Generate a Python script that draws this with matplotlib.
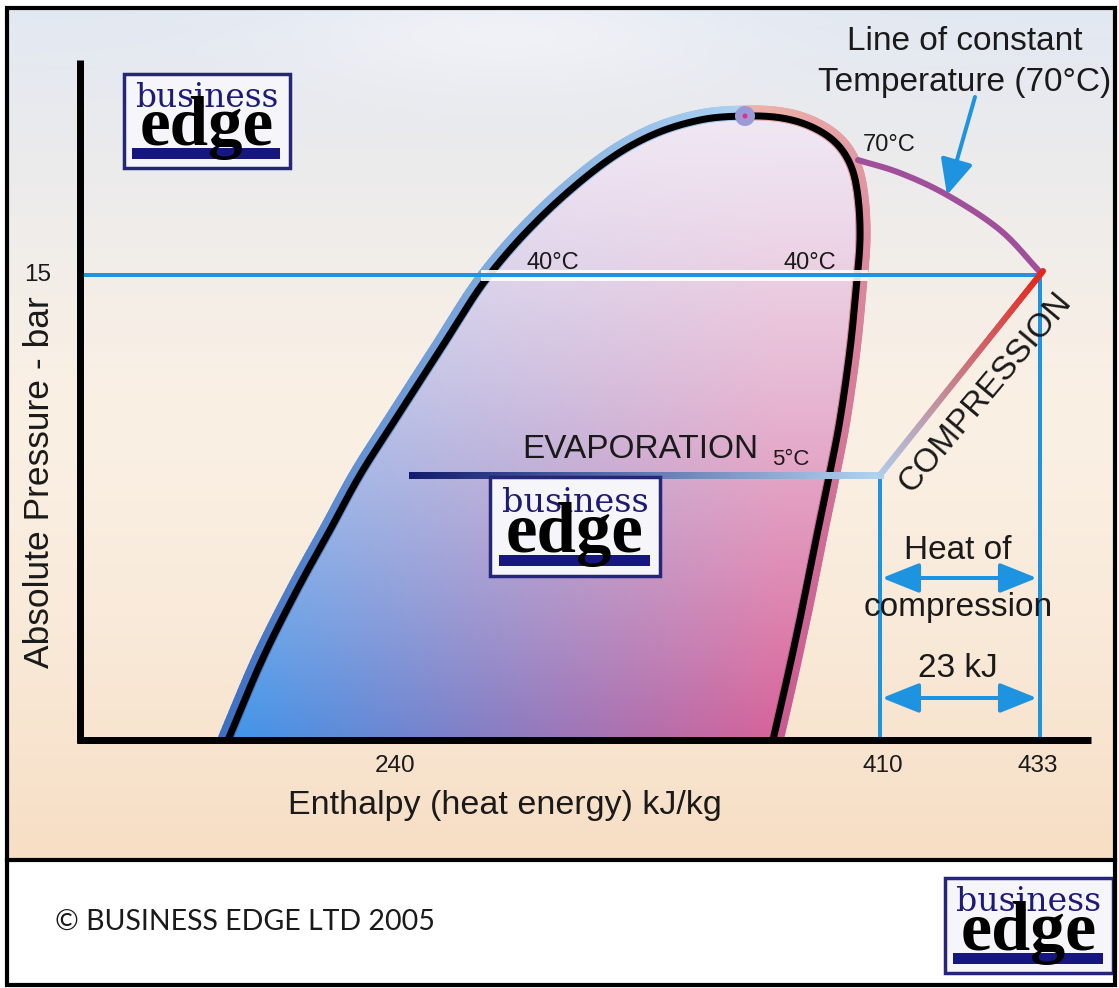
"""Pressure-enthalpy (refrigeration cycle) diagram"""

import numpy as np
import matplotlib.pyplot as plt
from matplotlib.patches import Polygon, Rectangle, Circle
from matplotlib.collections import LineCollection

W, H = 1119, 988
PX = 0.72  # one pixel in points at dpi 100

# schematic diagram coordinates (canvas pixels, y downward)
h_tick_pos = [395, 883, 1038]
h_tick_labels = ["240", "410", "433"]
p_tick_pos = [275]
p_tick_labels = ["15"]

dome_left_x = [228, 262, 297, 330, 360, 395, 440, 487, 540, 600, 650, 700, 745]
dome_left_y = [740, 660, 590, 530, 475, 420, 350, 278, 218, 166, 136, 120, 116]
dome_right_x = [745, 782, 812, 836, 851, 858, 860, 856, 850, 840, 829, 818, 804, 789, 773]
dome_right_y = [116, 118, 127, 143, 166, 197, 240, 290, 350, 420, 477, 530, 600, 670, 740]

iso70_x = [858, 900, 947, 1000, 1040]
iso70_y = [160, 173, 195, 230, 272]

evap_x = [412, 880]
evap_y = [475, 475]
comp_x = [880, 1043]
comp_y = [475, 271]

p_high_y = 275
h_evap_x = 880
h_comp_x = 1040
arrow_rows = [578, 698]

logos = [(124, 74, 290, 168), (490, 477, 660, 576), (945, 878, 1113, 973)]

BLUE = "#1e93df"


def smooth(xs, ys, n=16):
    # Catmull-Rom through the read points
    p = np.column_stack([xs, ys]).astype(float)
    p = np.vstack([2 * p[0] - p[1], p, 2 * p[-1] - p[-2]])
    t = np.linspace(0, 1, n, endpoint=False)[:, None]
    out = []
    for i in range(1, len(p) - 2):
        p0, p1, p2, p3 = p[i - 1], p[i], p[i + 1], p[i + 2]
        out.append(0.5 * (2 * p1 + (-p0 + p2) * t + (2 * p0 - 5 * p1 + 4 * p2 - p3) * t ** 2
                          + (-p0 + 3 * p1 - 3 * p2 + p3) * t ** 3))
    out.append(p[-2][None])
    return np.vstack(out)


fig = plt.figure(figsize=(W / 100, H / 100), dpi=100)
ax = fig.add_axes([0, 0, 1, 1])
ax.set_xlim(0, W)
ax.set_ylim(H, 0)
ax.axis("off")

# background wash
yy, xx = np.mgrid[0:1:300j, 0:1:400j]
top = np.array([226, 232, 242]) / 255
mid = np.array([250, 240, 228]) / 255
bot = np.array([247, 222, 196]) / 255
s = np.clip(yy / 0.45, 0, 1)[..., None]
bg = top * (1 - s) + mid * s
s2 = np.clip((yy - 0.45) / 0.55, 0, 1)[..., None] ** 1.5
bg = bg * (1 - s2) + bot * s2
cloud = np.exp(-((xx - 0.45) ** 2) / 0.04 - ((yy - 0.03) ** 2) / 0.004)[..., None]
bg = bg * (1 - 0.6 * cloud) + np.array([0.97, 0.97, 0.98]) * 0.6 * cloud
ax.imshow(bg, extent=(8, 1115, 860, 8), origin="upper", aspect="auto", zorder=0,
          interpolation="bilinear")

# dome outline, smoothed through the critical point
dome_pts = smooth(dome_left_x + dome_right_x[1:], dome_left_y + dome_right_y[1:])
k_top = (len(dome_left_x) - 1) * 16
dome = Polygon(dome_pts, closed=True, fc="none", ec="none")
ax.add_patch(dome)
gy, gx = np.mgrid[0:1:300j, 0:1:300j]
blue = np.array([66, 148, 232]) / 255
pink = np.array([215, 98, 152]) / 255
pale = np.array([240, 232, 244]) / 255
hx = np.clip((gx * 640 - 15) / 540, 0, 1)[..., None]
base = blue * (1 - hx) + pink * hx
t = (gy ** 1.25)[..., None]
fill = pale * (1 - t) + base * t
im = ax.imshow(fill, extent=(225, 865, 740, 110), origin="upper", aspect="auto",
               zorder=1, interpolation="bilinear")
im.set_clip_path(dome)

above_axis = Rectangle((0, 0), W, 740, transform=ax.transData)


def grad_line(pts, c0, c1, lw, z, cap="round", clip=None):
    seg = np.stack([pts[:-1], pts[1:]], axis=1)
    f = np.linspace(0, 1, len(seg))[:, None]
    cols = np.array(c0) / 255 * (1 - f) + np.array(c1) / 255 * f
    lc = LineCollection(seg, colors=cols, linewidths=lw, capstyle=cap, zorder=z)
    ax.add_collection(lc)
    if clip is not None:
        lc.set_clip_path(clip)


def straight(xs, ys, n=160):
    return np.column_stack([np.linspace(xs[0], xs[-1], n), np.linspace(ys[0], ys[-1], n)])


# glow round the dome, pushed outward along the normal
d = np.gradient(dome_pts, axis=0)
nrm = np.column_stack([d[:, 1], -d[:, 0]])
nrm /= np.linalg.norm(nrm, axis=1)[:, None]
glow = dome_pts + 3 * nrm
grad_line(glow[:k_top + 1], (60, 110, 195), (172, 210, 240), 15 * PX, 2, clip=above_axis)
grad_line(glow[k_top:], (238, 180, 170), (200, 90, 145), 15 * PX, 2, clip=above_axis)
ax.plot(dome_pts[:, 0], dome_pts[:, 1], color="black", lw=7 * PX, zorder=3,
        solid_capstyle="butt")
ax.add_patch(Circle(dome_pts[k_top], 10, fc="#9a9ad8", ec="none", zorder=4))
ax.add_patch(Circle(dome_pts[k_top], 2.5, fc="#e0308a", ec="none", zorder=5))

# condensing pressure line
ax.plot([486, 862], [p_high_y, p_high_y], color="white", lw=11 * PX, zorder=4, alpha=0.9)
ax.plot([84, h_comp_x], [p_high_y, p_high_y], color=BLUE, lw=4 * PX, zorder=5)

# 70 C isotherm
iso = smooth(iso70_x, iso70_y)
ax.plot(iso[:, 0], iso[:, 1], color="#a0509a", lw=6 * PX, zorder=4, solid_capstyle="round")

# verticals
ax.plot([h_evap_x, h_evap_x], [evap_y[0], 740], color=BLUE, lw=4 * PX, zorder=5)
ax.plot([h_comp_x, h_comp_x], [p_high_y, 740], color=BLUE, lw=4 * PX, zorder=5)

# evaporation and compression
grad_line(straight(evap_x, evap_y), (18, 28, 110), (175, 210, 240), 7 * PX, 6, cap="projecting")
grad_line(straight(comp_x, comp_y), (175, 205, 235), (228, 38, 28), 6 * PX, 6)

# axes
ax.plot([80, 80], [60, 743], color="black", lw=7 * PX, zorder=7, solid_capstyle="butt")
ax.plot([77, 1091], [740, 740], color="black", lw=7 * PX, zorder=7, solid_capstyle="butt")

for r in arrow_rows:
    ax.annotate("", xy=(h_comp_x - 3, r), xytext=(h_evap_x + 2, r),
                arrowprops=dict(arrowstyle="<|-|>,head_length=0.95,head_width=0.38",
                                color=BLUE, lw=4 * PX, mutation_scale=24,
                                shrinkA=0, shrinkB=0), zorder=6)
ax.annotate("", xy=(947, 195), xytext=(975, 97),
            arrowprops=dict(arrowstyle="-|>,head_length=0.9,head_width=0.42",
                            color=BLUE, lw=4 * PX, mutation_scale=24,
                            shrinkA=0, shrinkB=0), zorder=6)

FONT = "Liberation Sans"
kw = dict(family=FONT, color="#1a1a1a", zorder=9)
for x, lab in zip(h_tick_pos, h_tick_labels):
    ax.text(x, 766, lab, ha="center", va="center", fontsize=17.5, **kw)
for y, lab in zip(p_tick_pos, p_tick_labels):
    ax.text(51, y, lab, ha="right", va="center", fontsize=17.5, **kw)
ax.text(40, 482, "Absolute Pressure - bar", rotation=90, ha="center", va="center",
        fontsize=25.5, **kw)
ax.text(505, 805, "Enthalpy (heat energy) kJ/kg", ha="center", va="center",
        fontsize=24.5, **kw)
ax.text(553, 263, "40°C", ha="center", va="center", fontsize=17, **kw)
ax.text(810, 263, "40°C", ha="center", va="center", fontsize=17, **kw)
ax.text(889, 145, "70°C", ha="center", va="center", fontsize=17, **kw)
ax.text(965, 42, "Line of constant", ha="center", va="center", fontsize=24, **kw)
ax.text(965, 82, "Temperature (70°C)", ha="center", va="center", fontsize=24, **kw)
ax.text(522, 449, "EVAPORATION", ha="left", va="center", fontsize=24, **kw)
ax.text(772, 459, "5°C", ha="left", va="center", fontsize=16, **kw)
ax.text(985, 393, "COMPRESSION", rotation=50, ha="center", va="center",
        rotation_mode="anchor", fontsize=24, **kw)
ax.text(958, 550, "Heat of", ha="center", va="center", fontsize=24, **kw)
ax.text(958, 607, "compression", ha="center", va="center", fontsize=24, **kw)
ax.text(958, 668, "23 kJ", ha="center", va="center", fontsize=24, **kw)


def logo(x0, y0, x1, y1):
    w, h = x1 - x0, y1 - y0
    ax.add_patch(Rectangle((x0, y0), w, h, fc="#f6f6fa", ec="#25257a", lw=2.5, zorder=10))
    ax.add_patch(Rectangle((x0 + 0.05 * w, y0 + 0.79 * h), 0.89 * w, 0.11 * h,
                           fc="#161680", ec="none", zorder=11))
    ax.text(x0 + 0.5 * w, y0 + 0.35 * h, "business", ha="center", va="baseline",
            family="DejaVu Serif", color="#1c1c78", fontsize=w * 0.142, zorder=12)
    ax.text(x0 + 0.5 * w, y0 + 0.76 * h, "edge", ha="center", va="baseline",
            family="Liberation Serif", weight="bold", color="black",
            fontsize=w * 0.3, zorder=13)


for box in logos:
    logo(*box)

# frame and footer
ax.add_patch(Rectangle((0, 860), W, 128, fc="white", ec="none", zorder=0))
ax.plot([7, 1115], [860, 860], color="black", lw=3, zorder=13)
ax.add_patch(Rectangle((7, 8), 1108, 977, fc="none", ec="black", lw=3, zorder=13))
ax.text(55, 922, "© BUSINESS EDGE LTD 2005", family="Lato", fontsize=20.5,
        ha="left", va="center", color="#1a1a1a", zorder=9)

fig.savefig("out.png", dpi=100)
